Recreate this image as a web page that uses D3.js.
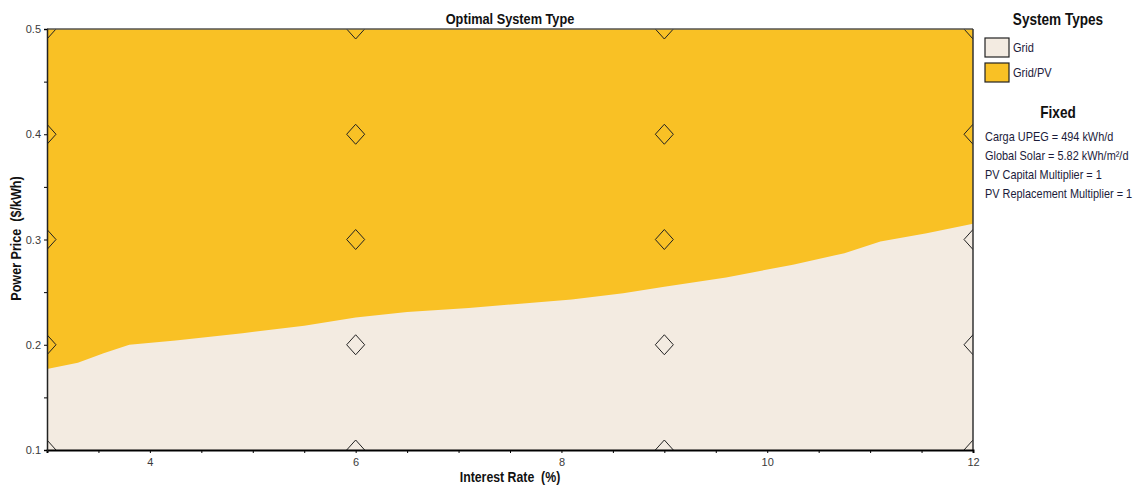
<!DOCTYPE html>
<html>
<head>
<meta charset="utf-8">
<script src="https://cdn.jsdelivr.net/npm/d3@7"></script>
<style>
  body { margin: 0; background: #fff; }
  text { font-family: "Liberation Sans Narrow", "Arial Narrow", "Liberation Sans", sans-serif; }
</style>
</head>
<body>
<svg id="chart"></svg>
<script>
// ---- data ----
var rates    = [3.0, 3.3, 3.55, 3.8, 4.25, 4.9, 5.5, 6.0, 6.5, 7.1, 7.6, 8.1, 8.6, 9.0, 9.6, 10.25, 10.75, 11.1, 11.55, 12.0];
var boundary = [0.177, 0.183, 0.192, 0.200, 0.204, 0.211, 0.218, 0.226, 0.231, 0.235, 0.239, 0.243, 0.249, 0.255, 0.264, 0.276, 0.287, 0.298, 0.306, 0.315];
var simRates  = [3, 6, 9, 12];
var simPrices = [0.1, 0.2, 0.3, 0.4, 0.5];
var xLabels = [4, 6, 8, 10, 12];
var yLabels = [0.1, 0.2, 0.3, 0.4, 0.5];
var systemTypes = ["Grid", "Grid/PV"];
var typeColors  = ["#F3EBE1", "#F9C125"];
var fixedLines = ["Carga UPEG = 494 kWh/d", "Global Solar = 5.82 kWh/m\u00B2/d",
                  "PV Capital Multiplier = 1", "PV Replacement Multiplier = 1"];

var W = 1136, H = 485;
var margin = {left: 47, right: 163, top: 29, bottom: 35};
var width = W - margin.left - margin.right,
    height = H - margin.top - margin.bottom;

var svg = d3.select("#chart").attr("width", W).attr("height", H);

var x = d3.scaleLinear().domain([3, 12]).range([0, width]);
var y = d3.scaleLinear().domain([0.1, 0.5]).range([height, 0]);

var g = svg.append("g").attr("transform", "translate(" + margin.left + "," + margin.top + ")");

svg.append("defs").append("clipPath").attr("id", "plotclip")
  .append("rect").attr("width", width).attr("height", height);

var plot = g.append("g").attr("clip-path", "url(#plotclip)");

// Grid region (background)
plot.append("rect").attr("width", width).attr("height", height).attr("fill", typeColors[0]);

// Grid/PV region above the boundary
var pts = rates.map(function(r, i) { return [r, boundary[i]]; });
var area = d3.area()
    .x(function(d) { return x(d[0]); })
    .y0(0)
    .y1(function(d) { return y(d[1]); });
plot.append("path").datum(pts).attr("d", area).attr("fill", typeColors[1]);

// simulated points (diamonds)
var sims = [];
simRates.forEach(function(r) { simPrices.forEach(function(p) { sims.push([r, p]); }); });
plot.selectAll("path.sim").data(sims).enter().append("path")
    .attr("class", "sim")
    .attr("d", function(d) {
      var cx = x(d[0]), cy = y(d[1]);
      return "M" + cx + "," + (cy - 10) + "L" + (cx + 9) + "," + cy + "L" + cx + "," + (cy + 10) + "L" + (cx - 9) + "," + cy + "Z";
    })
    .attr("fill", "none").attr("stroke", "#222").attr("stroke-width", 1);

// frame
g.append("line").attr("x1", 0).attr("x2", width).attr("y1", 0).attr("y2", 0).attr("stroke", "#555").attr("stroke-width", 1.5);
g.append("line").attr("x1", width).attr("x2", width).attr("y1", 0).attr("y2", height).attr("stroke", "#333").attr("stroke-width", 1.5);

// axes
var xAxis = d3.axisBottom(x).tickValues(d3.range(3, 12.01, 0.5)).tickSizeOuter(0).tickSize(3)
    .tickFormat(function(d) { return xLabels.indexOf(d) >= 0 ? d3.format("d")(d) : ""; });
var gx = g.append("g").attr("transform", "translate(0," + height + ")").call(xAxis);
gx.select(".domain").attr("stroke", "#000").attr("stroke-width", 2);
gx.selectAll(".tick line").attr("stroke", "#000");
gx.selectAll(".tick text").attr("font-size", 11).attr("fill", "#3a3a3a").attr("dy", "0.9em");

var yAxis = d3.axisLeft(y).tickValues(d3.range(0.1, 0.501, 0.05)).tickSizeOuter(0).tickSize(3)
    .tickFormat(function(d) {
      var v = Math.round(d * 100) / 100;
      return yLabels.indexOf(v) >= 0 ? d3.format(".1f")(v) : "";
    });
var gy = g.append("g").call(yAxis);
gy.select(".domain").attr("stroke", "#222").attr("stroke-width", 1.5);
gy.selectAll(".tick line").attr("stroke", "#000");
gy.selectAll(".tick text").attr("font-size", 11).attr("fill", "#3a3a3a");

// narrow text helper: horizontal squeeze, no narrow font installed
function narrow(parent, tx, ty, sx, txt, size, bold, anchor, fill) {
  parent.append("text")
    .attr("transform", "translate(" + tx + "," + ty + ") scale(" + sx + ",1)")
    .attr("text-anchor", anchor || "start")
    .attr("font-weight", bold ? "bold" : "normal")
    .attr("font-size", size)
    .attr("fill", fill)
    .attr("xml:space", "preserve")
    .text(txt);
}

// titles
narrow(svg, margin.left + width / 2, 24, 0.85, "Optimal System Type", 15, true, "middle", "#111");
narrow(svg, margin.left + width / 2, 482, 0.88, "Interest Rate  (%)", 14, true, "middle", "#111");
svg.append("g").attr("transform", "translate(21," + (margin.top + height / 2 - 1) + ") rotate(-90)")
  .call(function(s) { narrow(s, 0, 0, 0.9, "Power Price  ($/kWh)", 14, true, "middle", "#111"); });

// legend
var lg = svg.append("g").attr("transform", "translate(985,0)");
narrow(lg, 73, 25, 0.85, "System Types", 16, true, "middle", "#111");
systemTypes.forEach(function(t, i) {
  lg.append("rect").attr("x", 0).attr("y", 38 + i * 25).attr("width", 24).attr("height", 19)
    .attr("fill", typeColors[i]).attr("stroke", "#222").attr("stroke-width", 1.2);
  narrow(lg, 28, 52 + i * 25, 0.85, t, 13, false, "start", "#1b1b3a");
});
narrow(lg, 73, 118, 0.85, "Fixed", 16, true, "middle", "#111");
fixedLines.forEach(function(t, i) {
  narrow(lg, 0, 141 + i * 19, 0.84, t, 13, false, "start", "#1b1b3a");
});
</script>
</body>
</html>
